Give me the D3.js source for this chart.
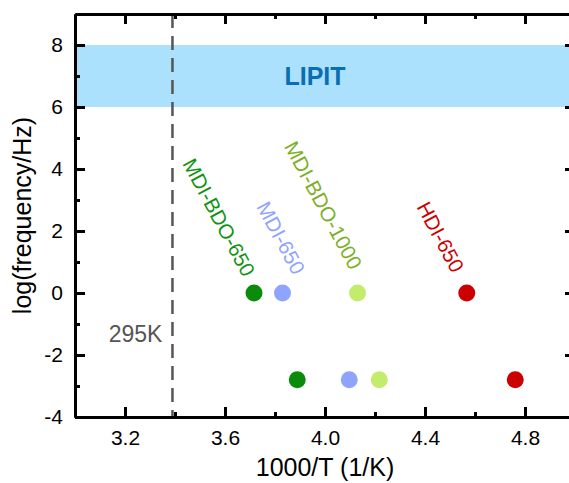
<!DOCTYPE html>
<html lang="en">
<head>
<meta charset="UTF-8">
<title>Relaxation frequency vs 1000/T</title>
<script src="https://cdn.jsdelivr.net/npm/d3@7"></script>
<style>
  body { margin: 0; background: #fff; }
  text { font-family: Arial, "Liberation Sans", sans-serif; }
</style>
</head>
<body>
<script>
// samples and their points (1000/T, log f)
const samples = ['MDI-BDO-650', 'MDI-650', 'MDI-BDO-1000', 'HDI-650'];
const pointColors = ['#0a8c0a', '#8fa4ff', '#c3ec6c', '#cc0000'];
const labelColors = ['#0f930f', '#8fa4ff', '#7bb024', '#cc0000'];
const upperX = [3.716, 3.83, 4.13, 4.567];
const upperY = [0, 0, 0, 0];
const lowerX = [3.889, 4.097, 4.217, 4.761];
const lowerY = [-2.8, -2.8, -2.8, -2.8];
// where each rotated label ends, in data units
const labelX = [3.672, 3.872, 4.10, 4.508];
const labelY = [0.48, 0.55, 0.71, 0.61];

const xMajor = [3.2, 3.6, 4.0, 4.4, 4.8];
const xMinor = [3.4, 3.8, 4.2, 4.6];
const yMajor = [-4, -2, 0, 2, 4, 6, 8];
const yMinor = [-3, -1, 1, 3, 5, 7];
const lipitBand = [6, 8];
const roomTemp = 295;

const W = 569, H = 483;
const margin = { top: 14, right: -6, bottom: 66, left: 75 };

const svg = d3.select('body').append('svg')
    .attr('width', W)
    .attr('height', H);

const x = d3.scaleLinear().domain([3.0, 5.0]).range([margin.left, W - margin.right]);
const y = d3.scaleLinear().domain([-4, 9]).range([H - margin.bottom, margin.top]);

// LIPIT band
svg.append('rect')
    .attr('x', x(3.0))
    .attr('y', y(lipitBand[1]))
    .attr('width', x(5.0) - x(3.0))
    .attr('height', y(lipitBand[0]) - y(lipitBand[1]))
    .attr('fill', '#abe1fc');

svg.append('text')
    .attr('x', x(3.96))
    .attr('y', y(7))
    .attr('dy', '0.36em')
    .attr('text-anchor', 'middle')
    .attr('font-size', 25)
    .attr('font-weight', 'bold')
    .attr('fill', '#0b6db3')
    .text('LIPIT');

// room temperature line
svg.append('line')
    .attr('x1', x(1000 / roomTemp))
    .attr('x2', x(1000 / roomTemp))
    .attr('y1', y(9))
    .attr('y2', y(-4))
    .attr('stroke', '#555')
    .attr('stroke-width', 2.5)
    .attr('stroke-dasharray', '14,8');

svg.append('text')
    .attr('x', x(1000 / roomTemp) - 10)
    .attr('y', y(-1.3))
    .attr('dy', '0.36em')
    .attr('text-anchor', 'end')
    .attr('font-size', 23)
    .attr('fill', '#555')
    .text(roomTemp + 'K');

// axes
function styleAxis(g) {
    g.select('.domain').attr('stroke', '#000').attr('stroke-width', 3);
    g.selectAll('.tick line').attr('stroke', '#000').attr('stroke-width', 3);
    g.selectAll('text').attr('font-size', 21).attr('fill', '#000')
        .style('font-family', 'Arial, "Liberation Sans", sans-serif');
}

const bottomAxis = svg.append('g').attr('transform', `translate(0,${y(-4)})`);
bottomAxis.call(d3.axisBottom(x).tickValues(xMajor).tickSizeInner(-10).tickSizeOuter(0).tickPadding(13).tickFormat(d3.format('.1f')));
styleAxis(bottomAxis);
const bottomMinor = svg.append('g').attr('transform', `translate(0,${y(-4)})`);
bottomMinor.call(d3.axisBottom(x).tickValues(xMinor).tickSizeInner(-5).tickSizeOuter(0).tickFormat(''));
styleAxis(bottomMinor);

const topAxis = svg.append('g').attr('transform', `translate(0,${y(9)})`);
topAxis.call(d3.axisTop(x).tickValues(xMajor).tickSizeInner(-10).tickSizeOuter(0).tickFormat(''));
styleAxis(topAxis);
const topMinor = svg.append('g').attr('transform', `translate(0,${y(9)})`);
topMinor.call(d3.axisTop(x).tickValues(xMinor).tickSizeInner(-5).tickSizeOuter(0).tickFormat(''));
styleAxis(topMinor);

const leftAxis = svg.append('g').attr('transform', `translate(${x(3.0)},0)`);
leftAxis.call(d3.axisLeft(y).tickValues(yMajor).tickSizeInner(-10).tickSizeOuter(0).tickPadding(12).tickFormat(d => String(d)));
styleAxis(leftAxis);
const leftMinor = svg.append('g').attr('transform', `translate(${x(3.0)},0)`);
leftMinor.call(d3.axisLeft(y).tickValues(yMinor).tickSizeInner(-5).tickSizeOuter(0).tickFormat(''));
styleAxis(leftMinor);

const rightAxis = svg.append('g').attr('transform', `translate(${x(5.0)},0)`);
rightAxis.call(d3.axisRight(y).tickValues(yMajor).tickSizeInner(-10).tickSizeOuter(0).tickFormat(''));
styleAxis(rightAxis);
const rightMinor = svg.append('g').attr('transform', `translate(${x(5.0)},0)`);
rightMinor.call(d3.axisRight(y).tickValues(yMinor).tickSizeInner(-5).tickSizeOuter(0).tickFormat(''));
styleAxis(rightMinor);

// axis titles
svg.append('text')
    .attr('x', (x(3.0) + W) / 2 + 3)
    .attr('y', H - 7)
    .attr('text-anchor', 'middle')
    .attr('font-size', 25)
    .text('1000/T (1/K)');

svg.append('text')
    .attr('transform', `translate(31,${y(2.5)}) rotate(-90)`)
    .attr('text-anchor', 'middle')
    .attr('font-size', 25)
    .text('log(frequency/Hz)');

// points
const points = samples.flatMap((s, i) => [
    { x: upperX[i], y: upperY[i], c: pointColors[i] },
    { x: lowerX[i], y: lowerY[i], c: pointColors[i] }
]);

svg.append('g').selectAll('circle')
    .data(points)
    .enter()
    .append('circle')
    .attr('cx', d => x(d.x))
    .attr('cy', d => y(d.y))
    .attr('r', 8.5)
    .attr('fill', d => d.c);

// rotated sample labels
svg.append('g').selectAll('text')
    .data(samples)
    .enter()
    .append('text')
    .attr('transform', (d, i) => `translate(${x(labelX[i])},${y(labelY[i])}) rotate(62)`)
    .attr('text-anchor', 'end')
    .attr('font-size', 20.5)
    .attr('fill', (d, i) => labelColors[i])
    .text(d => d);
</script>
</body>
</html>
